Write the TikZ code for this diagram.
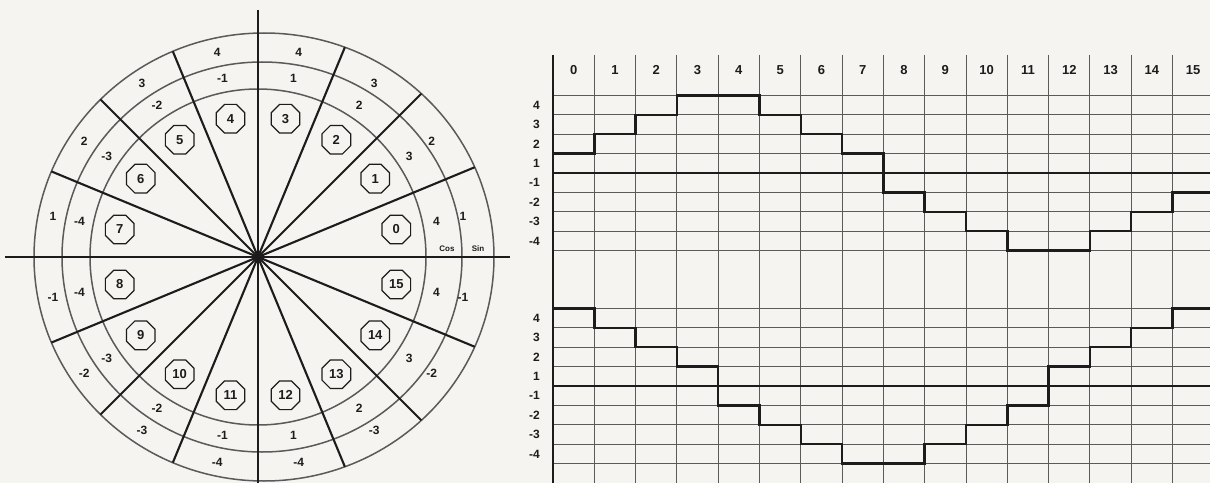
\documentclass[tikz,border=0pt]{standalone}
\usepackage{fontspec}
\setmainfont{Liberation Sans}
\usetikzlibrary{shapes.geometric}

\definecolor{paper}{RGB}{245,244,240}
\definecolor{ink}{RGB}{28,28,28}
\definecolor{rule}{RGB}{90,90,90}

\begin{document}
\begin{tikzpicture}[x=1pt, y=1pt,
  ring/.style={draw=rule, line width=1.5pt},
  spoke/.style={draw=ink, line width=2.1pt},
  octo/.style={regular polygon, regular polygon sides=8, draw=ink, line width=1.2pt,
    minimum size=31pt, inner sep=0pt, font=\bfseries\fontsize{13}{13}\selectfont, text=ink},
  numlab/.style={font=\bfseries\fontsize{12}{12}\selectfont, text=ink, inner sep=0pt},
  headlab/.style={font=\bfseries\fontsize{13}{13}\selectfont, text=ink, inner sep=0pt},
  tinylab/.style={font=\bfseries\fontsize{8}{8}\selectfont, text=ink, inner sep=0pt},
  gridline/.style={draw=rule, line width=0.9pt},
  heavy/.style={draw=ink, line width=2.5pt}]
  \fill[paper] (0,0) rectangle (1210,483);
  \useasboundingbox (0,0) rectangle (1210,483);

  % the wheel: 16 sectors, each with its number, cos and sin value
  \begin{scope}[shift={(258,226)}]
    \draw[ring] (0,0) circle (168pt);
    \draw[ring] (4,0) ellipse (200pt and 195pt);
    \draw[ring] (6,0) ellipse (230pt and 224pt);
    \begin{scope}
      \clip (6,0) ellipse (230pt and 224pt);
      \foreach \a in {22.5,45,...,337.5}
        \draw[spoke] (0,0) -- (\a:300);
    \end{scope}
    \draw[spoke] (0,247) -- (0,-226);
    \draw[spoke] (-253,0) -- (252,0);
    \foreach \k/\c/\s in {0/4/1, 1/3/2, 2/2/3, 3/1/4, 4/-1/4, 5/-2/3, 6/-3/2, 7/-4/1,
                          8/-4/-1, 9/-3/-2, 10/-2/-3, 11/-1/-4, 12/1/-4, 13/2/-3, 14/3/-2, 15/4/-1} {
      \node[octo] (oct\k) at ({11.25+22.5*\k}:141) {\k};
      \node[numlab] (cos\k) at ({11.25+22.5*\k}:182) {\c};
      \node[numlab] (sin\k) at ({11.25+22.5*\k}:209) {\s};
    }
    \node[tinylab] (coslab) at (189,8) {Cos};
    \node[tinylab] (sinlab) at (220,8) {Sin};
  \end{scope}

  % the two tables: sin on top, cos below
  \begin{scope}
    \clip (0,0) rectangle (1210,483);
    \foreach \i in {1,...,15}
      \draw[gridline] ({553+41.3*\i},428) -- ({553+41.3*\i},0);
    \foreach \y in {310,97} {
      \foreach \v in {-4,-3,-2,-1,1,2,3,4}
        \draw[gridline] (553,{\y+19.4*(\v)}) -- (1210,{\y+19.4*(\v)});
      \draw[heavy] (553,\y) -- (1210,\y);
    }
    \draw[heavy] (553,428) -- (553,0);
    % sine steps
    \draw[heavy, line join=miter] (553,329.4)
      foreach \k/\v in {0/1, 1/2, 2/3, 3/4, 4/4, 5/3, 6/2, 7/1, 8/-1, 9/-2, 10/-3, 11/-4, 12/-4, 13/-3, 14/-2, 15/-1}
      { -- ({553+41.3*\k},{310+19.4*(\v)}) -- ({553+41.3*(\k+1)},{310+19.4*(\v)}) };
    % cosine steps
    \draw[heavy, line join=miter] (553,174.6)
      foreach \k/\v in {0/4, 1/3, 2/2, 3/1, 4/-1, 5/-2, 6/-3, 7/-4, 8/-4, 9/-3, 10/-2, 11/-1, 12/1, 13/2, 14/3, 15/4}
      { -- ({553+41.3*\k},{97+19.4*(\v)}) -- ({553+41.3*(\k+1)},{97+19.4*(\v)}) };
  \end{scope}
  \foreach \i in {0,...,15}
    \node[headlab] (col\i) at ({553+41.3*(\i+0.5)},413) {\i};
  \foreach \v in {4,3,2,1,-1,-2,-3,-4} {
    \node[numlab, anchor=east] (s\v) at (540,{310+19.4*(\v)-9.7*(\v)/abs(\v)}) {\v};
    \node[numlab, anchor=east] (c\v) at (540,{97+19.4*(\v)-9.7*(\v)/abs(\v)}) {\v};
  }
\end{tikzpicture}
\end{document}
